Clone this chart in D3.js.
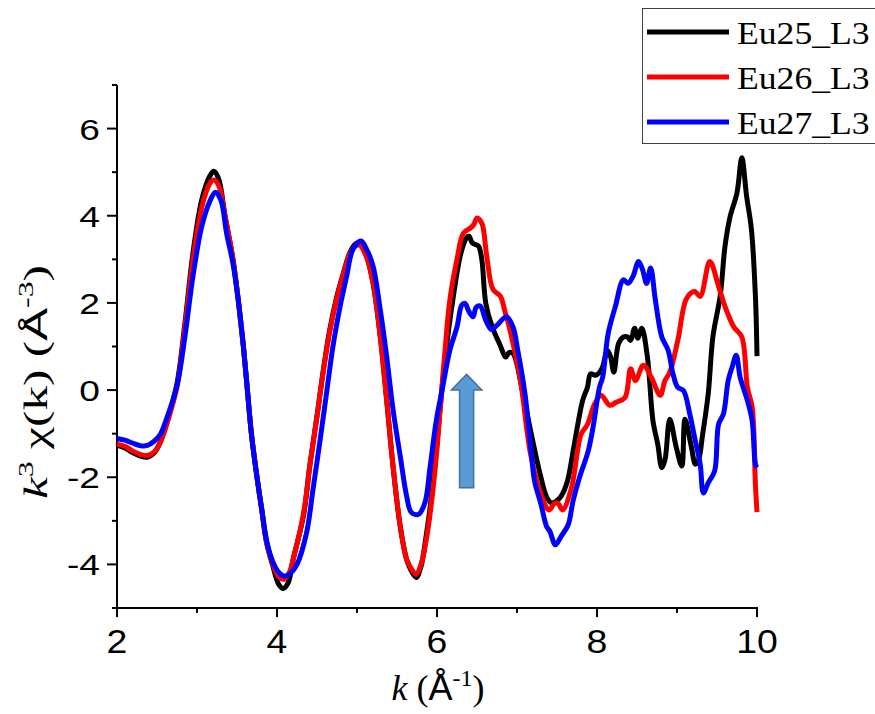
<!DOCTYPE html>
<html><head><meta charset="utf-8">
<script src="https://cdn.jsdelivr.net/npm/d3@7/dist/d3.min.js"></script>
<style>body{margin:0;background:#fff}svg{display:block}</style>
</head><body>
<svg id="chart" width="875" height="714"></svg>
<script>
const seriesNames = ["Eu25_L3", "Eu26_L3", "Eu27_L3"];
const seriesColors = ["#000000", "#ff0000", "#0000ff"];
const xTicks = [2, 4, 6, 8, 10];
const yTicks = [-4, -2, 0, 2, 4, 6];

const eu25 = [[2.0,-1.27],[2.1,-1.33],[2.2,-1.44],[2.3,-1.52],[2.38,-1.54],[2.46,-1.45],[2.54,-1.2],[2.64,-0.62],[2.75,0.15],[2.85,1.55],[2.95,3.15],[3.06,4.37],[3.16,4.91],[3.21,5.02],[3.27,4.85],[3.35,4.0],[3.45,3.0],[3.52,2.0],[3.58,1.0],[3.63,0.0],[3.68,-1.0],[3.75,-2.0],[3.81,-2.75],[3.87,-3.5],[3.95,-4.05],[4.02,-4.45],[4.08,-4.55],[4.14,-4.42],[4.2,-3.9],[4.33,-2.89],[4.41,-1.74],[4.5,-0.6],[4.58,0.47],[4.66,1.39],[4.75,2.16],[4.83,2.69],[4.91,3.15],[4.98,3.35],[5.03,3.38],[5.12,3.07],[5.2,2.46],[5.29,1.24],[5.37,-0.21],[5.45,-1.74],[5.54,-3.12],[5.62,-3.88],[5.68,-4.15],[5.74,-4.3],[5.8,-4.05],[5.86,-3.4],[5.92,-2.6],[6.0,-1.2],[6.1,0.7],[6.2,2.1],[6.3,3.15],[6.37,3.5],[6.40,3.53],[6.44,3.38],[6.48,3.34],[6.52,3.3],[6.56,3.0],[6.61,1.99],[6.69,1.45],[6.78,1.07],[6.86,0.76],[6.9,0.86],[6.95,0.84],[7.06,0.06],[7.18,-1.02],[7.30,-2.01],[7.37,-2.45],[7.43,-2.59],[7.49,-2.55],[7.55,-2.44],[7.63,-2.09],[7.71,-1.31],[7.82,-0.24],[7.88,0.06],[7.92,0.37],[7.98,0.34],[8.03,0.4],[8.07,0.53],[8.13,0.91],[8.17,0.76],[8.21,0.41],[8.27,1.07],[8.33,1.22],[8.38,1.22],[8.42,1.14],[8.47,1.42],[8.51,1.19],[8.56,1.42],[8.63,0.76],[8.70,-0.71],[8.76,-1.25],[8.81,-1.78],[8.85,-1.6],[8.91,-0.67],[8.99,-1.31],[9.06,-1.74],[9.1,-0.67],[9.18,-1.31],[9.23,-1.7],[9.27,-1.6],[9.32,-1.02],[9.39,-0.09],[9.45,1.24],[9.54,2.16],[9.6,3.3],[9.66,3.95],[9.75,4.53],[9.81,5.33],[9.87,4.45],[9.93,3.69],[9.98,2.16],[10.0,0.78]];

const eu26 = [[2.0,-1.24],[2.1,-1.29],[2.2,-1.4],[2.3,-1.48],[2.38,-1.5],[2.46,-1.43],[2.54,-1.2],[2.64,-0.68],[2.75,0.08],[2.85,1.45],[2.95,3.0],[3.06,4.2],[3.16,4.74],[3.21,4.82],[3.27,4.7],[3.35,4.0],[3.45,3.0],[3.52,2.0],[3.58,1.0],[3.63,0.0],[3.68,-1.0],[3.75,-2.0],[3.81,-2.75],[3.87,-3.5],[3.95,-4.0],[4.02,-4.28],[4.09,-4.34],[4.15,-4.2],[4.22,-3.75],[4.33,-2.85],[4.41,-1.74],[4.5,-0.6],[4.58,0.45],[4.66,1.35],[4.75,2.12],[4.83,2.66],[4.91,3.12],[4.98,3.3],[5.03,3.33],[5.12,3.05],[5.2,2.46],[5.29,1.24],[5.37,-0.21],[5.45,-1.74],[5.54,-3.12],[5.62,-3.88],[5.68,-4.1],[5.74,-4.23],[5.8,-4.0],[5.86,-3.5],[5.92,-2.75],[6.0,-1.36],[6.04,-0.4],[6.1,0.9],[6.16,2.06],[6.25,3.0],[6.33,3.6],[6.42,3.72],[6.46,3.8],[6.50,3.95],[6.56,3.83],[6.62,3.1],[6.70,2.31],[6.79,2.16],[6.85,1.8],[6.91,1.39],[7.04,0.25],[7.17,-1.47],[7.30,-2.39],[7.40,-2.75],[7.47,-2.6],[7.51,-2.59],[7.57,-2.75],[7.68,-2.25],[7.80,-1.02],[7.88,-0.79],[7.97,-0.32],[8.05,-0.12],[8.16,-0.35],[8.24,-0.28],[8.35,-0.17],[8.42,0.49],[8.48,0.22],[8.58,0.57],[8.68,0.29],[8.79,-0.12],[8.85,0.22],[8.91,0.41],[9.01,1.14],[9.12,2.1],[9.22,2.26],[9.29,2.15],[9.41,2.95],[9.52,2.38],[9.60,1.92],[9.71,1.45],[9.81,1.22],[9.88,0.06],[9.94,-0.4],[9.98,-2.16],[10.0,-2.8]];

const eu27 = [[2.0,-1.11],[2.1,-1.15],[2.2,-1.22],[2.3,-1.28],[2.38,-1.27],[2.46,-1.18],[2.54,-1.02],[2.64,-0.55],[2.75,0.1],[2.85,1.24],[2.95,2.62],[3.06,3.76],[3.16,4.33],[3.23,4.54],[3.3,4.35],[3.37,3.6],[3.45,2.9],[3.52,2.0],[3.58,1.0],[3.63,0.0],[3.68,-1.0],[3.75,-2.0],[3.81,-2.75],[3.87,-3.45],[3.95,-3.95],[4.03,-4.2],[4.1,-4.27],[4.17,-4.2],[4.25,-4.0],[4.37,-3.27],[4.45,-2.28],[4.54,-1.13],[4.62,-0.06],[4.70,1.01],[4.79,1.93],[4.87,2.61],[4.95,3.23],[5.05,3.42],[5.12,3.23],[5.20,2.85],[5.29,1.85],[5.37,0.78],[5.45,-0.44],[5.54,-1.51],[5.62,-2.43],[5.68,-2.81],[5.77,-2.85],[5.85,-2.58],[5.91,-1.82],[5.99,-0.71],[6.07,0.06],[6.16,0.91],[6.25,1.45],[6.31,1.95],[6.35,1.99],[6.40,1.8],[6.45,1.68],[6.49,1.9],[6.54,1.93],[6.61,1.6],[6.68,1.39],[6.75,1.49],[6.87,1.68],[6.95,1.45],[7.01,0.91],[7.10,-0.09],[7.18,-1.47],[7.22,-2.09],[7.30,-2.62],[7.37,-3.13],[7.41,-3.24],[7.48,-3.55],[7.55,-3.36],[7.64,-3.09],[7.70,-2.55],[7.78,-2.01],[7.89,-1.40],[7.95,-0.86],[8.03,0.06],[8.07,0.29],[8.14,1.30],[8.23,1.92],[8.33,2.53],[8.39,2.45],[8.45,2.61],[8.52,2.95],[8.57,2.76],[8.62,2.45],[8.67,2.80],[8.73,2.06],[8.81,1.22],[8.89,0.91],[8.95,0.37],[9.01,0.06],[9.08,-0.01],[9.16,-0.55],[9.22,-1.09],[9.29,-1.70],[9.33,-2.36],[9.39,-2.13],[9.47,-1.86],[9.52,-0.78],[9.58,-0.55],[9.64,0.22],[9.69,0.53],[9.74,0.80],[9.79,0.29],[9.88,-0.24],[9.94,-0.71],[9.98,-1.70],[10.0,-1.78]];

// annotation arrow (data units)
const arrowK = 6.37, arrowTip = 0.36, arrowHeadBase = 0.0, arrowBottom = -2.24;
const arrowShaftHalf = 0.088, arrowHeadHalf = 0.19;

const SANS = "'Liberation Sans', Arial, sans-serif";
const SERIF = "'Liberation Serif', 'Times New Roman', serif";

const svg = d3.select("#chart");
const x = d3.scaleLinear().domain([2, 10]).range([117, 757]);
const y = d3.scaleLinear().domain([-5, 7]).range([608, 85]);

// axes
const ax = svg.append("g").attr("stroke", "#000").attr("stroke-width", 2);
ax.append("line").attr("x1", x(2) - 1).attr("x2", x(10) + 1).attr("y1", y(-5)).attr("y2", y(-5));
ax.append("line").attr("x1", x(2)).attr("x2", x(2)).attr("y1", y(-5)).attr("y2", y(7));
d3.range(2, 10.01, 1).forEach(v => {
  const major = v % 2 === 0;
  ax.append("line").attr("x1", x(v)).attr("x2", x(v)).attr("y1", y(-5)).attr("y2", y(-5) + (major ? 9 : 5));
});
d3.range(-5, 7.01, 1).forEach(v => {
  const major = v % 2 === 0;
  ax.append("line").attr("x1", x(2)).attr("x2", x(2) - (major ? 10 : 5)).attr("y1", y(v)).attr("y2", y(v));
});

xTicks.forEach(v => {
  svg.append("text").attr("transform", `translate(${x(v)},${y(-5) + 45}) scale(1.1,1)`)
    .attr("text-anchor", "middle").attr("font-family", SANS)
    .attr("font-size", 34).text(v);
});
yTicks.forEach(v => {
  svg.append("text").attr("transform", `translate(${x(2) - 17},${y(v) + 11}) scale(1.28,1)`)
    .attr("text-anchor", "end").attr("font-family", SANS)
    .attr("font-size", 29).text(v);
});

// x title
const xt = svg.append("text").attr("transform", `translate(438,700)`).attr("text-anchor", "middle")
  .attr("font-family", SERIF).attr("font-size", 36);
xt.append("tspan").attr("font-style", "italic").text("k");
xt.append("tspan").text(" (");
xt.append("tspan").attr("font-family", SANS).text("Å");
xt.append("tspan").attr("font-size", 24).attr("dy", -14).text("-1");
xt.append("tspan").attr("dy", 14).text(")");

// y title
const yt = svg.append("text").attr("transform", `translate(47,382) rotate(-90) scale(1.45,1)`).attr("text-anchor", "middle")
  .attr("font-family", SERIF).attr("font-size", 34);
yt.append("tspan").attr("font-style", "italic").text("k");
yt.append("tspan").attr("font-size", 22).attr("dy", -14).text("3");
yt.append("tspan").attr("dy", 14).text(" χ(k) (");
yt.append("tspan").attr("font-family", SANS).text("Å");
yt.append("tspan").attr("font-size", 22).attr("dy", -14).text("-3");
yt.append("tspan").attr("dy", 14).text(")");

// arrow
const arrowPts = [
  [arrowK - arrowShaftHalf, arrowBottom], [arrowK - arrowShaftHalf, arrowHeadBase],
  [arrowK - arrowHeadHalf, arrowHeadBase], [arrowK, arrowTip],
  [arrowK + arrowHeadHalf, arrowHeadBase], [arrowK + arrowShaftHalf, arrowHeadBase],
  [arrowK + arrowShaftHalf, arrowBottom]
];
svg.append("path").attr("d", "M" + arrowPts.map(p => [x(p[0]), y(p[1])].join(",")).join("L") + "Z")
  .attr("fill", "#5b9bd5").attr("stroke", "#41719c").attr("stroke-width", 1.5);

// lines
const line = d3.line().x(d => x(d[0])).y(d => y(d[1])).curve(d3.curveCatmullRom.alpha(0.5));
[eu25, eu26, eu27].forEach((s, i) => {
  svg.append("path").attr("d", line(s)).attr("fill", "none").attr("stroke", seriesColors[i])
    .attr("stroke-width", 5).attr("stroke-linejoin", "round").attr("stroke-linecap", "butt");
});

// legend
const lg = svg.append("g");
lg.append("rect").attr("x", 642.5).attr("y", 8.5).attr("width", 240).attr("height", 135)
  .attr("fill", "#fff").attr("stroke", "#444").attr("stroke-width", 1);
seriesNames.forEach((n, i) => {
  const yy = 32 + i * 45;
  lg.append("line").attr("x1", 647).attr("x2", 729).attr("y1", yy).attr("y2", yy)
    .attr("stroke", seriesColors[i]).attr("stroke-width", 5);
  lg.append("text").attr("transform", `translate(737,${yy + 12}) scale(1.15,1)`)
    .attr("font-family", SERIF).attr("font-size", 31).text(n);
});
</script>
</body></html>
